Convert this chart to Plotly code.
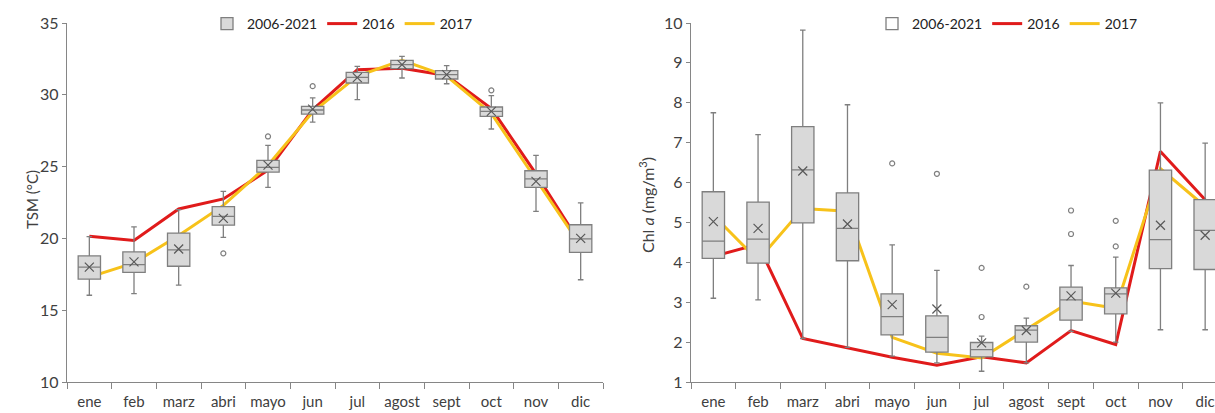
import plotly.graph_objects as go

months = ["ene", "feb", "marz", "abri", "mayo", "jun", "jul", "agost", "sept", "oct", "nov", "dic"]

# ---- TSM (°C) climatology 2006-2021 box stats ----
tsm_lo = [16.04, 16.15, 16.75, 20.07, 23.55, 28.10, 29.66, 31.17, 30.77, 27.62, 21.88, 17.12]
tsm_q1 = [17.17, 17.63, 18.06, 20.92, 24.62, 28.66, 30.82, 31.82, 31.10, 28.50, 23.55, 19.02]
tsm_med = [18.00, 18.18, 19.20, 21.54, 24.95, 28.94, 31.21, 32.10, 31.40, 28.84, 24.14, 19.96]
tsm_q3 = [18.78, 19.06, 20.37, 22.21, 25.43, 29.19, 31.56, 32.40, 31.68, 29.15, 24.71, 20.95]
tsm_hi = [20.12, 20.80, 22.00, 23.27, 26.48, 29.78, 31.98, 32.67, 32.03, 29.94, 25.78, 22.47]
tsm_mean = [18.00, 18.36, 19.26, 21.40, 25.10, 29.00, 31.20, 32.10, 31.40, 28.85, 23.97, 20.00]
tsm_out_x = ["abri", "mayo", "jun", "oct"]
tsm_out_y = [18.96, 27.10, 30.60, 30.31]
tsm_2016 = [20.15, 19.85, 22.05, 22.75, 24.75, 28.95, 31.75, 31.85, 31.35, 29.05, 24.50, 19.60]
tsm_2017 = [17.30, 18.30, 20.20, 22.30, 25.10, 28.80, 31.30, 32.40, 31.30, 28.70, 24.10, 19.50]

# ---- Chl a (mg/m3) ----
chl_lo = [3.10, 3.06, 2.09, 1.87, 1.65, 1.48, 1.27, 1.48, 2.27, 2.00, 2.31, 2.31]
chl_q1 = [4.10, 3.98, 4.99, 4.04, 2.18, 1.75, 1.63, 2.00, 2.55, 2.71, 3.84, 3.82]
chl_med = [4.53, 4.58, 6.32, 4.85, 2.64, 2.12, 1.81, 2.30, 3.06, 3.21, 4.57, 4.80]
chl_q3 = [5.77, 5.51, 7.40, 5.74, 3.21, 2.66, 1.99, 2.41, 3.38, 3.36, 6.31, 5.57]
chl_hi = [7.75, 7.20, 9.82, 7.95, 4.44, 3.80, 2.15, 2.60, 3.92, 4.13, 8.00, 6.99]
chl_mean = [5.02, 4.85, 6.29, 4.96, 2.94, 2.83, 1.98, 2.29, 3.16, 3.23, 4.93, 4.68]
chl_out_x = ["mayo", "jun", "jul", "jul", "agost", "sept", "sept", "oct", "oct"]
chl_out_y = [6.48, 6.22, 3.86, 2.63, 3.39, 4.71, 5.30, 4.40, 5.04]
chl_2016 = [4.15, 4.45, 2.09, 1.86, 1.62, 1.42, 1.63, 1.48, 2.29, 1.94, 6.78, 5.57]
chl_2017 = [5.18, 4.05, 5.35, 5.28, 2.12, 1.72, 1.60, 2.31, 3.03, 2.85, 6.35, 5.40]

RED = "#E01B1B"
YEL = "#F7C21A"
BOXFILL = "#D9D9D9"
BOXLINE = "#7F7F7F"
TXT = "#404040"
FONT = "Lato"

fig = go.Figure()

def add_panel(xa, ya, xo, yo, lg, lo, q1, med, q3, hi, mean, ox, oy, y16, y17, icon_fill):
    # lines on the base axes (drawn underneath)
    fig.add_trace(go.Scatter(x=months, y=y16, mode="lines", name="2016",
                             line=dict(color=RED, width=3), xaxis=xa, yaxis=ya,
                             legend=lg, legendrank=2))
    fig.add_trace(go.Scatter(x=months, y=y17, mode="lines", name="2017",
                             line=dict(color=YEL, width=3), xaxis=xa, yaxis=ya,
                             legend=lg, legendrank=3))
    # boxes on overlaying axes (drawn on top of the lines)
    same_icon = icon_fill == BOXFILL
    fig.add_trace(go.Box(x=months, q1=q1, median=med, q3=q3, lowerfence=lo,
                         upperfence=hi, name="2006-2021", boxpoints=False,
                         fillcolor=BOXFILL, line=dict(color=BOXLINE, width=1.3),
                         width=0.5, whiskerwidth=0.25, xaxis=xo, yaxis=yo,
                         legend=lg, legendrank=1, showlegend=same_icon))
    if not same_icon:
        # legend-only entry with a white box icon
        fig.add_trace(go.Box(x=[months[0]], q1=[None], median=[None], q3=[None],
                             lowerfence=[None], upperfence=[None], name="2006-2021",
                             boxpoints=False, fillcolor=icon_fill,
                             line=dict(color=BOXLINE, width=1.3), width=0.5,
                             xaxis=xo, yaxis=yo, legend=lg, legendrank=1))
    fig.add_trace(go.Scatter(x=months, y=mean, mode="markers", showlegend=False,
                             marker=dict(symbol="x-thin-open", size=9, color="#595959",
                                         line=dict(color="#595959", width=1.2)),
                             xaxis=xo, yaxis=yo))
    fig.add_trace(go.Scatter(x=ox, y=oy, mode="markers", showlegend=False,
                             marker=dict(symbol="circle-open", size=5, color=BOXLINE,
                                         line=dict(color=BOXLINE, width=1.2)),
                             xaxis=xo, yaxis=yo))

add_panel("x", "y", "x3", "y3", "legend", tsm_lo, tsm_q1, tsm_med, tsm_q3, tsm_hi,
          tsm_mean, tsm_out_x, tsm_out_y, tsm_2016, tsm_2017, BOXFILL)
add_panel("x2", "y2", "x4", "y4", "legend2", chl_lo, chl_q1, chl_med, chl_q3, chl_hi,
          chl_mean, chl_out_x, chl_out_y, chl_2016, chl_2017, "white")

W, H = 1215, 413
ydom = [(H - 382) / H, (H - 23) / H]

xcommon = dict(type="category", categoryorder="array", categoryarray=months,
               showline=True, linecolor="#868686", linewidth=1.3,
               ticks="outside", tickson="boundaries", ticklen=6, tickcolor="#868686",
               ticklabelstandoff=6, tickangle=0, automargin=False,
               tickfont=dict(family=FONT, size=15, color=TXT), showgrid=False,
               zeroline=False)
ycommon = dict(showline=True, linecolor="#868686", linewidth=1.3,
               ticks="outside", ticklen=4, tickcolor="#868686", automargin=False,
               tickfont=dict(family=FONT, size=16, color=TXT), showgrid=False,
               zeroline=False, domain=ydom)
hidden_x = dict(type="category", categoryorder="array", categoryarray=months,
                visible=False, showgrid=False, zeroline=False, automargin=False)
hidden_y = dict(visible=False, showgrid=False, zeroline=False, automargin=False)

x1r = [-0.5, 11.5]
x2r = [-0.5, 11.22]

fig.update_layout(
    width=W, height=H,
    margin=dict(l=0, r=0, t=0, b=0, autoexpand=False),
    paper_bgcolor="white", plot_bgcolor="white",
    font=dict(family=FONT, color=TXT),
    boxmode="overlay",
    xaxis=dict(domain=[67 / W, 603 / W], range=x1r, anchor="y", **xcommon),
    yaxis=dict(range=[10, 35], dtick=5, anchor="x", **ycommon),
    xaxis2=dict(domain=[691 / W, 1.0], range=x2r, anchor="y2", **xcommon),
    yaxis2=dict(range=[1, 10], dtick=1, anchor="x2", **ycommon),
    xaxis3=dict(overlaying="x", range=x1r, anchor="y3", **hidden_x),
    yaxis3=dict(overlaying="y", range=[10, 35], anchor="x3", **hidden_y),
    xaxis4=dict(overlaying="x2", range=x2r, anchor="y4", **hidden_x),
    yaxis4=dict(overlaying="y2", range=[1, 10], anchor="x4", **hidden_y),
    legend=dict(orientation="h", x=207 / W, y=1 - 24 / H, xanchor="left",
                yanchor="middle", bgcolor="rgba(0,0,0,0)",
                font=dict(family=FONT, size=14, color="#222")),
    legend2=dict(orientation="h", x=872 / W, y=1 - 24 / H, xanchor="left",
                 yanchor="middle", bgcolor="rgba(0,0,0,0)",
                 font=dict(family=FONT, size=14, color="#222")),
    annotations=[
        dict(text="TSM (°C)", x=21 / W, y=1 - 200 / H, xref="paper", yref="paper",
             textangle=-90, showarrow=False, font=dict(family=FONT, size=15, color=TXT)),
        dict(text="Chl <i>a</i> (mg/m<sup>3</sup>)", x=646 / W, y=1 - 205 / H,
             xref="paper", yref="paper", textangle=-90, showarrow=False,
             font=dict(family=FONT, size=16, color=TXT)),
    ],
)

fig.write_html("out.html")
